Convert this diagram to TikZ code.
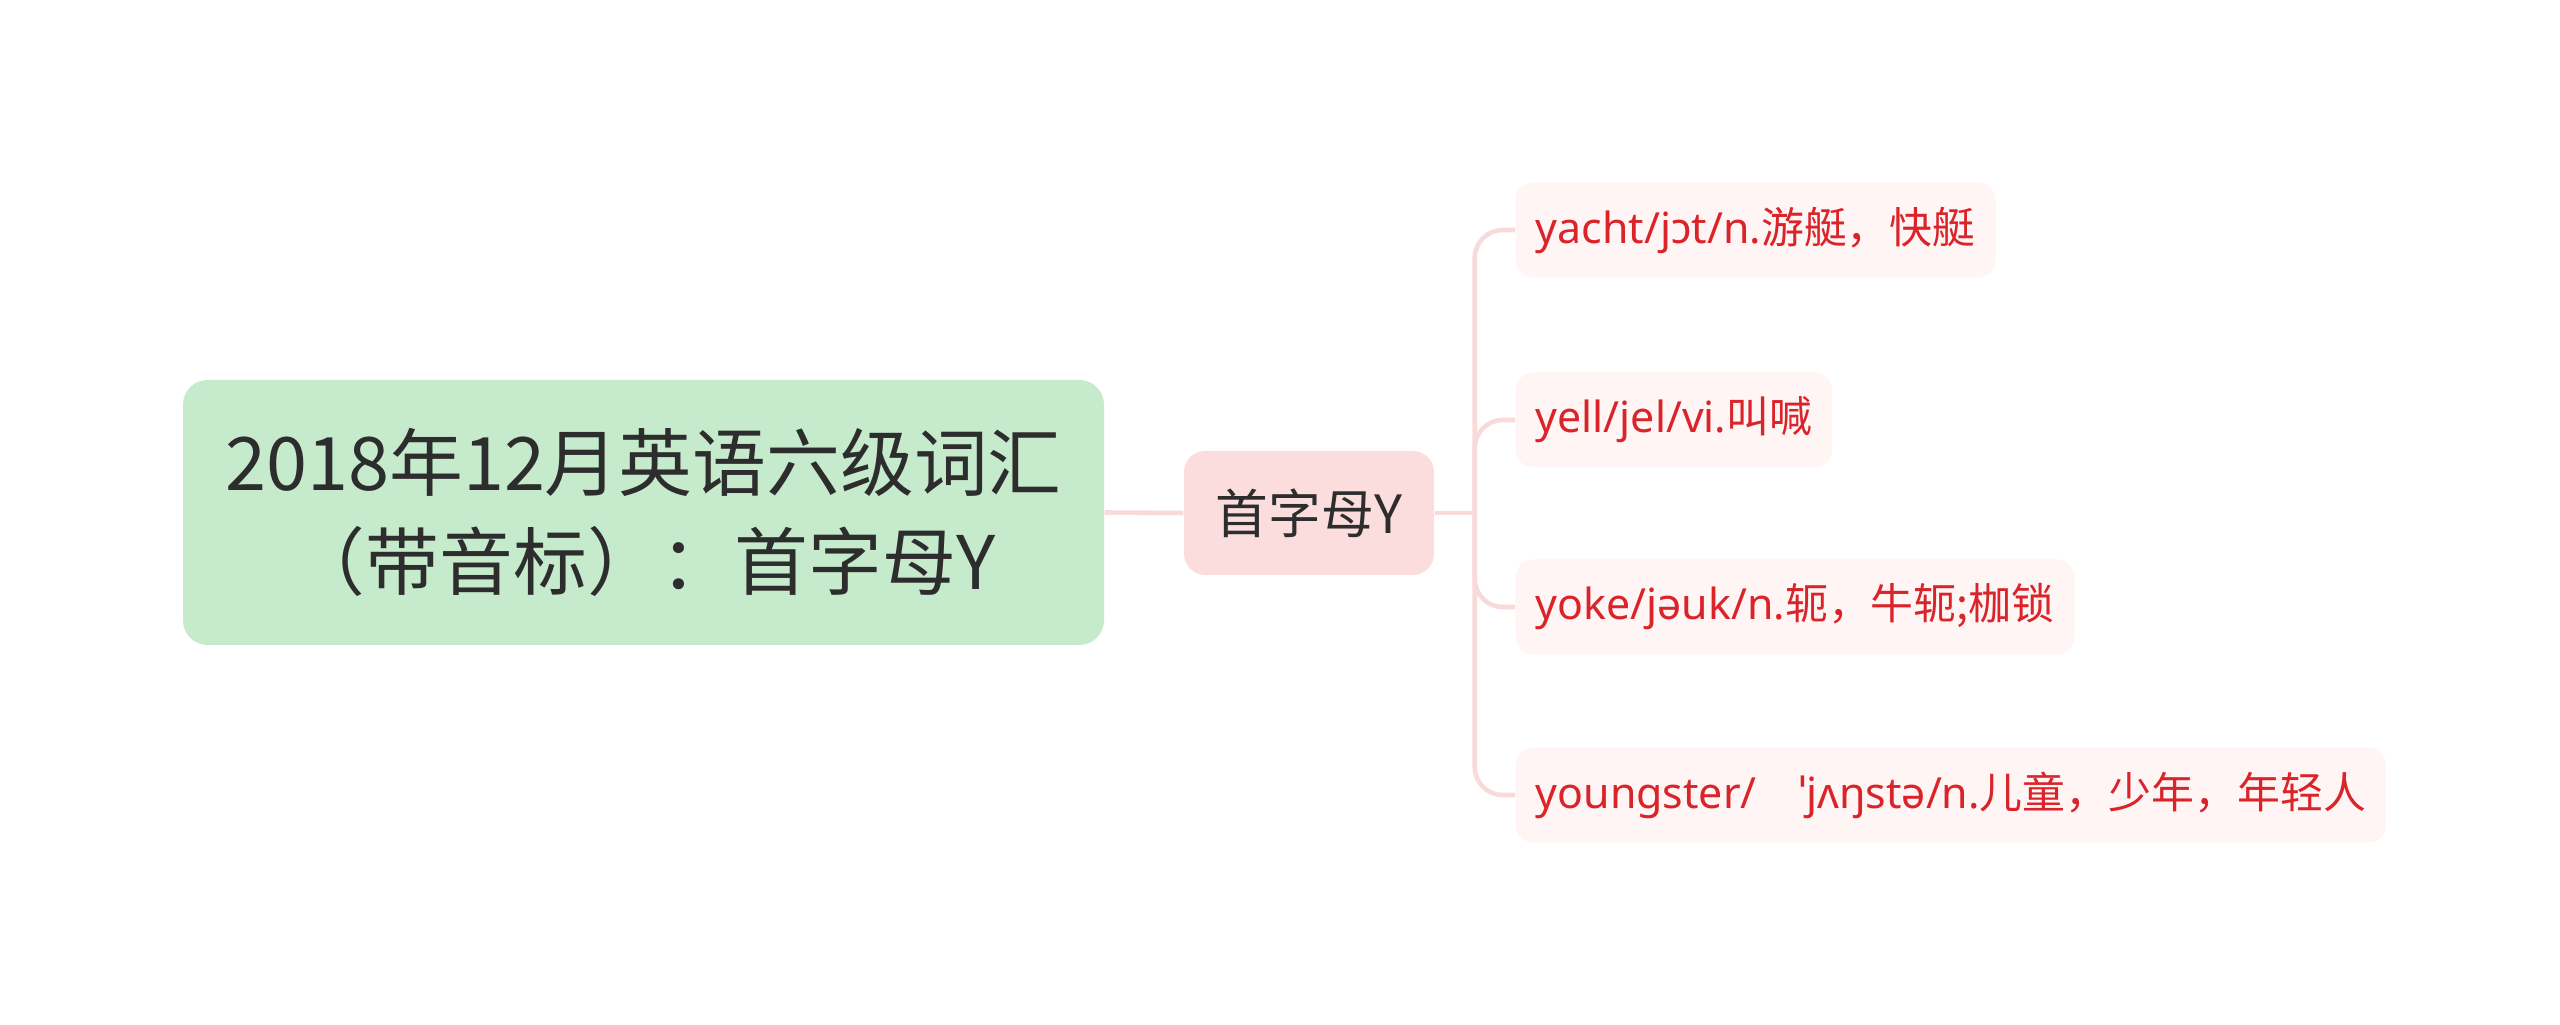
\documentclass[tikz,border=0pt]{standalone}
\usepackage{fontspec}
\setmainfont{Noto Sans}
\newfontfamily\cjk{Noto Sans CJK SC}
\usepackage{xcolor}
\usetikzlibrary{positioning, calc}
\definecolor{rootcolor}{RGB}{198, 235, 204}
\definecolor{midcolor}{RGB}{252, 221, 222}
\definecolor{leafcolor}{RGB}{255, 245, 245}
\definecolor{linkcolor}{RGB}{249, 218, 218}
\definecolor{wordcolor}{RGB}{218, 36, 42}
\definecolor{titlecolor}{RGB}{45, 45, 45}

\begin{document}
\begin{tikzpicture}[
    rootbox/.style={rectangle, rounded corners=7pt, fill=rootcolor, minimum width=9.21cm,
                    minimum height=2.65cm, align=center, text=titlecolor,
                    font=\cjk\fontsize{21}{28}\selectfont},
    midbox/.style={rectangle, rounded corners=6pt, fill=midcolor, minimum width=2.5cm,
                   minimum height=1.24cm, text=titlecolor, font=\cjk\fontsize{15}{18}\selectfont},
    leafbox/.style={rectangle, rounded corners=5pt, fill=leafcolor, minimum height=0.95cm,
                    inner xsep=0.2cm, anchor=west, text=wordcolor, font=\fontsize{12.2}{14}\selectfont},
    link/.style={linkcolor, line width=1.3pt}
]
\useasboundingbox (0,0) rectangle (25.6,10.25);

% Root and middle nodes
\node[rootbox] (root) at (6.435,5.125) {2018年12月英语六级词汇\\（带音标）：首字母Y};
\node[midbox] (mid) at (13.09,5.12) {首字母Y};

% Word leaves
\node[leafbox] (yacht) at (15.15,7.95) {yacht/jɔt/n.{\cjk 游艇，快艇}};
\node[leafbox] (yell) at (15.15,6.05) {yell/jel/vi.{\cjk 叫喊}};
\node[leafbox] (yoke) at (15.15,4.18) {yoke/jəuk/n.{\cjk 轭，牛轭;枷锁}};
\node[leafbox] (youngster) at (15.15,2.30) {youngster/\quad ˈjʌŋstə/n.{\cjk 儿童，少年，年轻人}};

% Connectors
\coordinate (fork) at ($(mid.east)+(0.4,0)$);
\draw[link] (root.east) -- (mid.west);
\draw[link] (mid.east) -- (fork);
\foreach \leaf in {yacht, yell, yoke, youngster}
    \draw[link, rounded corners=8pt] (fork) |- (\leaf.west);

\end{tikzpicture}
\end{document}
